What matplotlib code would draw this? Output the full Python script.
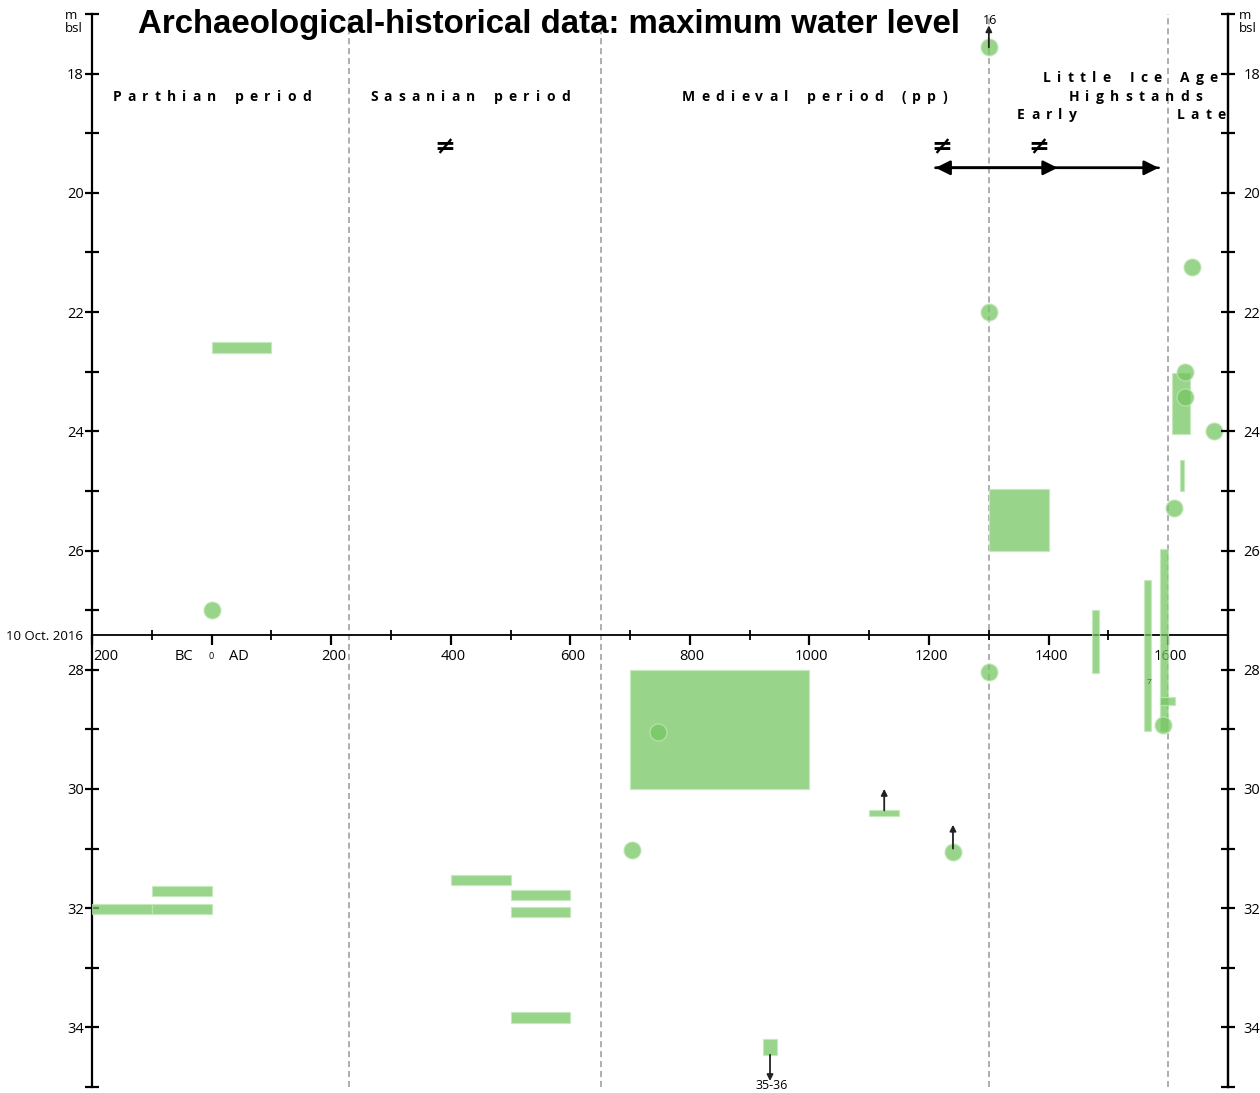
import matplotlib
matplotlib.use("Agg")
import matplotlib.pyplot as plt
from matplotlib.patches import Rectangle
from matplotlib.font_manager import FontProperties
from matplotlib import transforms

# ---- data (years AD, negative = BC; water level in m below sea level) ----
point_years = [0, 1300, 1300, 1639, 1628, 1628, 1677, 1609, 1300, 1592, 747, 704, 1240]
point_depths = [27.0, 17.56, 22.0, 21.25, 23.0, 23.42, 24.0, 25.28, 28.03, 28.92, 29.04, 31.03, 31.06]

# boxes: year range and depth range
box_y0 = [0, 700, 1300, 1607, 1620, 1473, 1559, 1586, 1587, -200, -100, -100, 400, 500, 500, 500, 1100, 922]
box_y1 = [100, 1000, 1400, 1636, 1626, 1485, 1572, 1599, 1611, -100, 0, 0, 500, 600, 600, 600, 1150, 945]
box_d0 = [22.50, 28.0, 24.96, 23.02, 24.48, 26.99, 26.5, 25.97, 28.45, 31.93, 31.93, 31.62, 31.44, 31.69, 31.98, 33.74, 30.36, 34.19]
box_d1 = [22.68, 30.0, 26.0, 24.04, 25.0, 28.05, 29.02, 29.02, 28.60, 32.10, 32.10, 31.79, 31.61, 31.86, 32.15, 33.92, 30.46, 34.46]

# arrows marking levels beyond the plotted value: (year, from, to, label, label depth)
level_arrows = [(1300, 17.56, 17.19, "16", 17.11), (1125, 30.36, 30.0, None, None),
                (1240, 31.0, 30.6, None, None), (934, 34.46, 34.9, "35-36", 34.97)]

period_bounds = [230, 652, 1300, 1600]
period_labels = [("Parthian period", 0, 18.39), ("Sasanian period", 432, 18.39),
                 ("Medieval period (pp)", 1008, 18.39), ("Little Ice Age", 1537, 18.07),
                 ("Highstands", 1545, 18.39), ("Early", 1397, 18.70), ("Late", 1655, 18.70)]
neq_years = [391, 1222, 1384]

x_label_years = [200, 400, 600, 800, 1000, 1200, 1400, 1600]
present_level = 27.41  # 10 Oct. 2016

GREEN = "#76c663"
EDGE = "#c4e8ba"
font_main = ["Open Sans", "DejaVu Sans"]

fig = plt.figure(figsize=(12.6, 10.93), dpi=100)
L, R, T, B = 92, 1228, 14, 1087
ax = fig.add_axes([L / 1260, 1 - B / 1093, (R - L) / 1260, (B - T) / 1093])
ax.set_xlim(-200, 1700)
ax.set_ylim(35, 17)
renderer = fig.canvas.get_renderer()


def tracked_text(x, y, s, size=10, track=6.2):
    """Letter-spaced bold label centred on (x, y) in data coordinates."""
    prop = FontProperties(family=font_main, weight="bold", size=size)
    widths = []
    for c in s:
        if c == " ":
            widths.append(0.42 * size * 100 / 72)
        else:
            widths.append(renderer.get_text_width_height_descent(c, prop, ismath=False)[0])
    total = sum(widths) + track * (len(s) - 1)
    pos = -total / 2
    for c, w in zip(s, widths):
        if c != " ":
            tr = transforms.offset_copy(ax.transData, fig=fig, x=pos, y=0, units="dots")
            ax.text(x, y, c, transform=tr, ha="left", va="center", fontproperties=prop,
                    clip_on=False)
        pos += w + track


ax.spines["top"].set_visible(False)
ax.spines["bottom"].set_position(("data", present_level))
ax.spines["bottom"].set_linewidth(1.3)
ax.spines["left"].set_linewidth(1.6)
ax.spines["right"].set_linewidth(1.6)

# y axis: labelled every 2 m, minor at odd metres
ax.set_yticks(range(18, 35, 2))
ax.set_yticks(range(17, 36, 2), minor=True)
ax.tick_params(axis="y", which="both", direction="inout", length=10, width=1.6,
               labelsize=10.5, pad=1, right=True)
ax2 = ax.twinx()
ax2.set_ylim(35, 17)
ax2.set_yticks(range(18, 35, 2))
ax2.set_yticks(range(17, 36, 2), minor=True)
ax2.tick_params(axis="y", which="both", direction="inout", length=10, width=1.6,
                labelsize=10.5, pad=6)
for s in ["top", "bottom", "left"]:
    ax2.spines[s].set_visible(False)
ax2.spines["right"].set_linewidth(1.6)
for a in (ax, ax2):
    for lab in a.get_yticklabels():
        lab.set_family(font_main)

# x axis on the present-day level
ax.set_xticks(range(-200, 1601, 200))
ax.set_xticks(range(-100, 1701, 200), minor=True)
ax.tick_params(axis="x", which="major", direction="out", length=7, width=1.6, labelbottom=False)
ax.tick_params(axis="x", which="minor", direction="inout", length=7, width=1.3)
for yr in x_label_years:
    ax.text(yr + 4, 27.77, str(yr), ha="center", va="center", fontsize=10.5, family=font_main)
ax.text(-198, 27.77, "200", ha="left", va="center", fontsize=10.5, family=font_main)
ax.text(-47, 27.77, "BC", ha="center", va="center", fontsize=10.5, family=font_main)
ax.text(45, 27.77, "AD", ha="center", va="center", fontsize=10.5, family=font_main)
ax.text(0, 27.78, "0", ha="center", va="center", fontsize=6.5, family=font_main)
fig.text(83 / 1260, 1 - 636 / 1093, "10 Oct. 2016", ha="right", va="center",
         fontsize=9.5, family=font_main)

fig.text(65 / 1260, 1 - 9 / 1093, "m\nbsl", ha="left", va="top", fontsize=9.5,
         family=font_main, linespacing=1.05)
fig.text(1239 / 1260, 1 - 9 / 1093, "m\nbsl", ha="left", va="top", fontsize=9.5,
         family=font_main, linespacing=1.05)

# period boundaries
for yr in period_bounds:
    ax.axvline(yr, color="#999999", lw=1.1, ls=(0, (4, 2.5)), zorder=1)

for txt, yr, d in period_labels:
    tracked_text(yr, d, txt)

for yr in neq_years:
    ax.text(yr, 19.24, "\u2260", ha="center", va="center", fontsize=18,
            fontweight="bold", family=["DejaVu Sans"])

# early / late highstand extent
arrow_kw = dict(arrowstyle="-|>", color="black", lw=1.8, mutation_scale=22,
                shrinkA=0, shrinkB=0)
ax.annotate("", xy=(1211, 19.58), xytext=(1584, 19.58), arrowprops=arrow_kw)
ax.annotate("", xy=(1584, 19.58), xytext=(1211, 19.58), arrowprops=arrow_kw)
ax.annotate("", xy=(1415, 19.58), xytext=(1211, 19.58), arrowprops=arrow_kw)

# boxes
for x0, x1, d0, d1 in zip(box_y0, box_y1, box_d0, box_d1):
    ax.add_patch(Rectangle((x0, d0), x1 - x0, d1 - d0, facecolor=GREEN, alpha=0.75,
                           edgecolor=EDGE, lw=0.9, zorder=3))

# point estimates
ax.scatter(point_years, point_depths, s=150, color=GREEN, alpha=0.75,
           edgecolors=EDGE, linewidths=0.9, zorder=4)

for yr, d_from, d_to, lab, lab_d in level_arrows:
    ax.annotate("", xy=(yr, d_to), xytext=(yr, d_from),
                arrowprops=dict(arrowstyle="-|>", color="#222222", lw=1.3,
                                mutation_scale=9, shrinkA=0, shrinkB=0), zorder=5)
    if lab:
        ax.text(yr + 2, lab_d, lab, ha="center", va="center", fontsize=9,
                family=font_main, clip_on=False, zorder=6)

ax.text(1568, 28.22, "7", ha="center", va="center", fontsize=6, color="#555555",
        family=font_main)

fig.text(138 / 1260, 1 - 25 / 1093, "Archaeological-historical data: maximum water level",
         ha="left", va="center", fontsize=23.8, fontweight="bold", family="Liberation Sans")

fig.savefig("out.png", dpi=100)
